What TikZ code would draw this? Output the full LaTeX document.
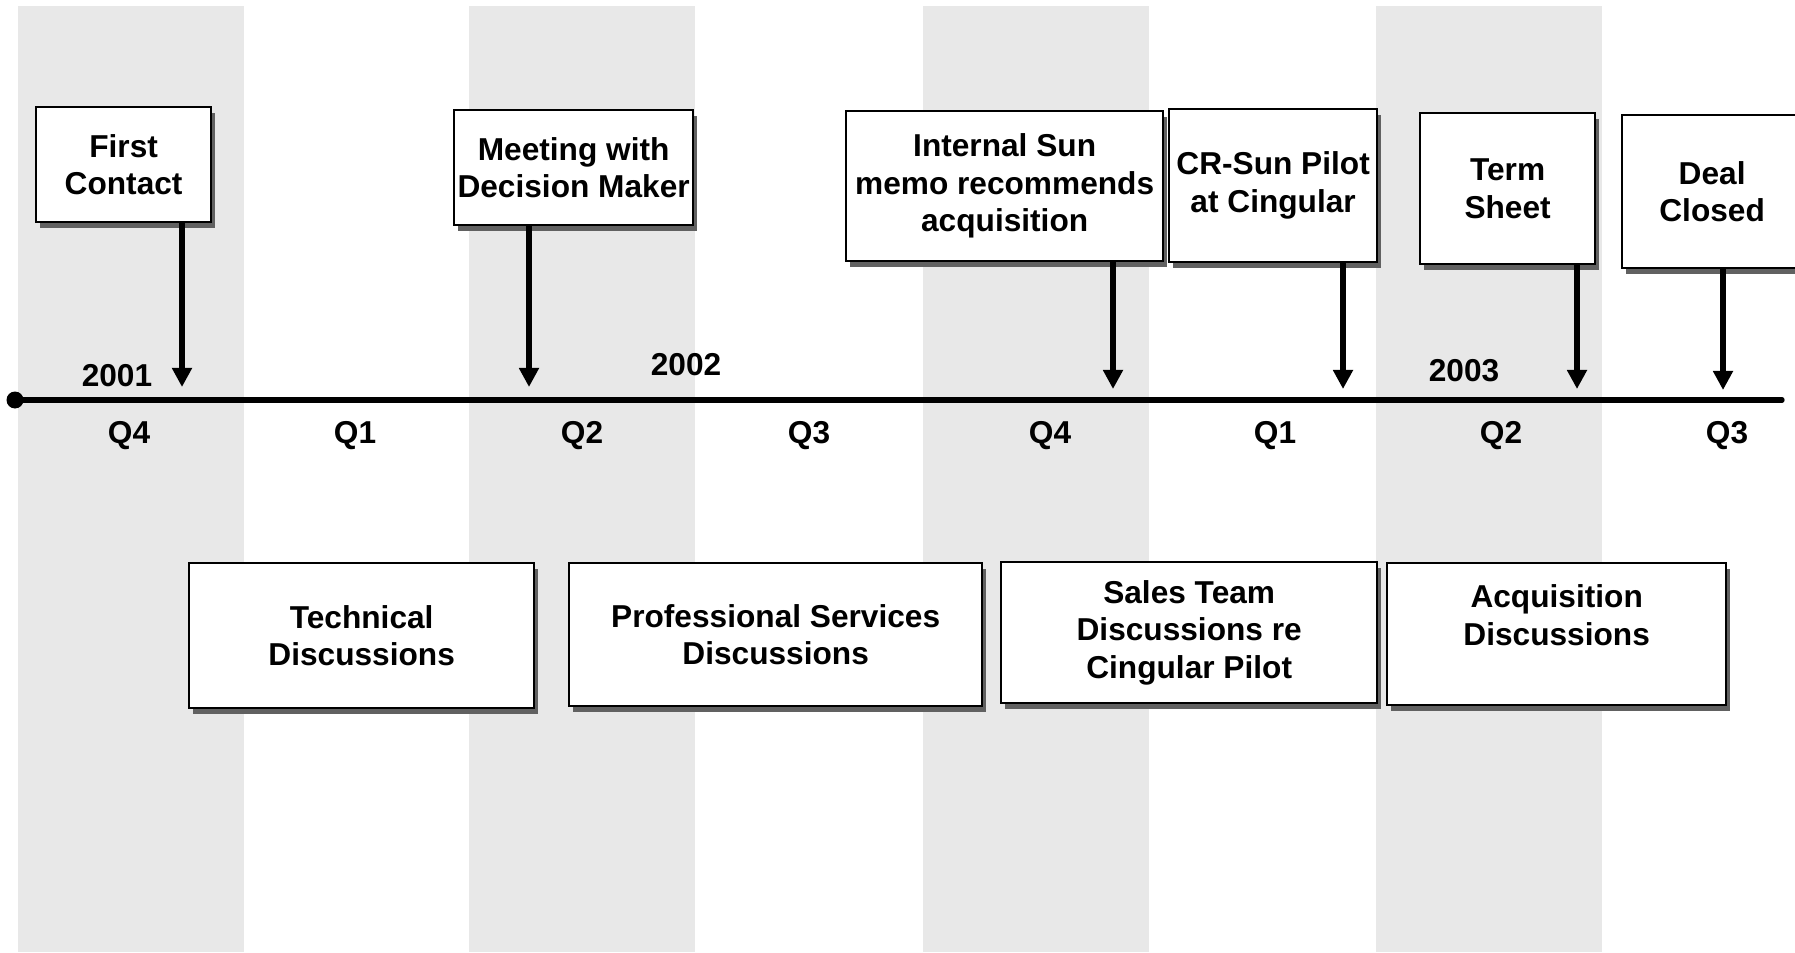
\documentclass[tikz,border=0pt]{standalone}
\usepackage{fontspec}
\setmainfont{Liberation Sans}
\usetikzlibrary{arrows.meta, shadows}

\begin{document}
\begin{tikzpicture}[
    x=0.01cm, y=-0.01cm,
    font=\fontsize{9}{10.7}\selectfont\bfseries,
    stripe/.style={fill=black!9, draw=none},
    event/.style={draw, line width=0.6pt, fill=white, anchor=north west,
        inner sep=0pt, align=center,
        drop shadow={shadow xshift=0.04cm, shadow yshift=-0.055cm, fill=black!62, opacity=1}},
    marker/.style={line width=1.5pt, -{Triangle[length=0.19cm, width=0.19cm]}},
    axis/.style={line width=1.5pt, line cap=round}
]
    \useasboundingbox (0,0) rectangle (1795,952);

    % Shaded quarters:
    \foreach \sx in {18, 469, 923, 1376}
        \fill[stripe] (\sx,6) rectangle ++(226,946);

    % Time axis:
    \coordinate (start) at (15,400);
    \coordinate (stop) at (1782,400);
    \draw[axis] (start) -- (stop);
    \fill (start) circle (8.5);

    \node (y2001) at (117,376) {2001};
    \node (y2002) at (686,365) {2002};
    \node (y2003) at (1464,371) {2003};

    \foreach \qx/\qt [count=\i] in {129/Q4, 355/Q1, 582/Q2, 809/Q3, 1050/Q4, 1275/Q1, 1501/Q2, 1727/Q3}
        \node (q\i) at (\qx,436) {\qt};

    % Milestones above the axis:
    \node[event, minimum width=1.75cm, minimum height=1.15cm] (first) at (35,106) {First\\Contact};
    \node[event, minimum width=2.39cm, minimum height=1.15cm] (meet) at (453,109) {Meeting with\\Decision Maker};
    \node[event, minimum width=3.17cm, minimum height=1.50cm] (memo) at (845,110) {Internal Sun\\memo recommends\\acquisition};
    \node[event, minimum width=2.08cm, minimum height=1.53cm] (pilot) at (1168,108) {CR-Sun Pilot\\at Cingular};
    \node[event, minimum width=1.75cm, minimum height=1.51cm] (term) at (1419,112) {Term\\Sheet};
    \node[event, minimum width=1.80cm, minimum height=1.53cm] (deal) at (1621,114) {Deal\\Closed};

    \coordinate (t1) at (182,387);
    \coordinate (t2) at (529,387);
    \coordinate (t3) at (1113,389);
    \coordinate (t4) at (1343,389);
    \coordinate (t5) at (1577,389);
    \coordinate (t6) at (1723,390);

    \draw[marker] (first.south -| t1) -- (t1);
    \draw[marker] (meet.south -| t2) -- (t2);
    \draw[marker] (memo.south -| t3) -- (t3);
    \draw[marker] (pilot.south -| t4) -- (t4);
    \draw[marker] (term.south -| t5) -- (t5);
    \draw[marker] (deal.south -| t6) -- (t6);

    % Phases below the axis:
    \node[event, minimum width=3.45cm, minimum height=1.45cm] (tech) at (188,562) {Technical\\Discussions};
    \node[event, minimum width=4.13cm, minimum height=1.43cm] (prof) at (568,562) {Professional Services\\Discussions};
    \node[event, minimum width=3.76cm, minimum height=1.41cm] (sales) at (1000,561) {Sales Team\\Discussions re\\Cingular Pilot};
    \node[event, minimum width=3.39cm, minimum height=1.42cm] (acq) at (1386,562) {Acquisition\\Discussions\\~};
\end{tikzpicture}
\end{document}
